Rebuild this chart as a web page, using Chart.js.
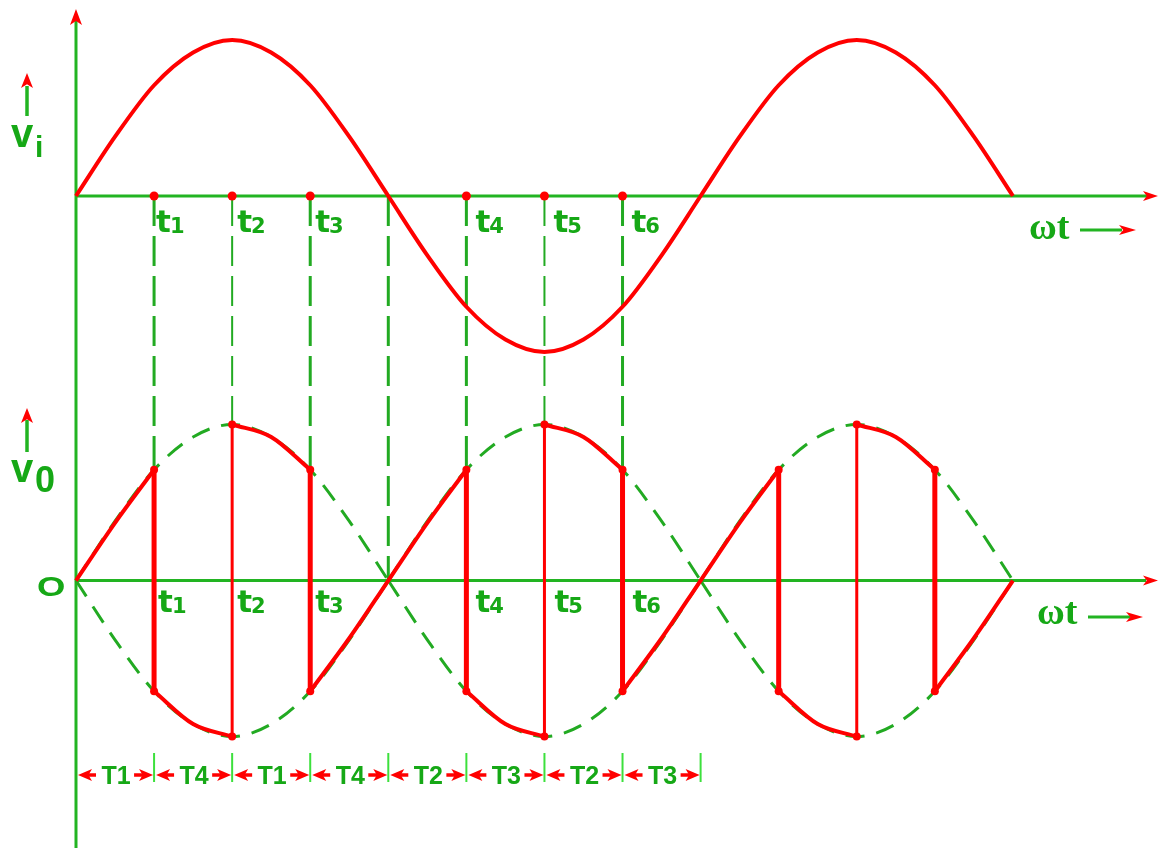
<!DOCTYPE html>
<html><head><meta charset="utf-8">
<script src="https://cdn.jsdelivr.net/npm/chart.js@4.4.1/dist/chart.umd.min.js"></script>
<style>html,body{margin:0;padding:0;background:#fff;overflow:hidden}#wrap{width:1159px;height:848px;position:relative}</style>
</head><body><div id="wrap"><canvas id="c" width="1159" height="848"></canvas></div>
<script>
// ---------- data: phase of ωt in degrees, amplitudes normalised to peak = 1 ----------
const phaseDeg = [0,22.5,45,67.5,90,112.5,135,157.5,180,202.5,225,247.5,270,292.5,315,337.5,360,382.5,405,427.5,450,472.5,495,517.5,540];
const viValues = [0,0.38,0.71,0.92,1,0.92,0.71,0.38,0,-0.38,-0.71,-0.92,-1,-0.92,-0.71,-0.38,0,0.38,0.71,0.92,1,0.92,0.71,0.38,0];
const envelopeValues = [0,0.38,0.71,0.92,1,0.92,0.71,0.38,0,0.38,0.71,0.92,1,0.92,0.71,0.38,0,0.38,0.71,0.92,1,0.92,0.71,0.38,0];
// output waveform: a repeated phase marks a vertical switching jump
const voPhase = [0,22.5,45, 45,67.5,90, 90,112.5,135, 135,157.5,180,202.5,225, 225,247.5,270, 270,292.5,315, 315,337.5,360,382.5,405, 405,427.5,450, 450,472.5,495, 495,517.5,540];
const voValues = [0,0.37,0.71, -0.71,-0.92,-1, 1,0.92,0.71, -0.71,-0.37,0,0.37,0.71, -0.71,-0.92,-1, 1,0.92,0.71, -0.71,-0.37,0,0.37,0.71, -0.71,-0.92,-1, 1,0.92,0.71, -0.71,-0.37,0];
const tPhase = [45,90,135,225,270,315];
const tNames = ['1','2','3','4','5','6'];
const connectorPhase = [45,90,135,180,225,270,315];
const connectorEnd = [0.71,1,0.71,0,0.71,1,0.71];
const intervalEdges = [0,45,90,135,180,225,270,315,360];
const intervalLabels = ['T1','T4','T1','T4','T2','T3','T2','T3'];

// ---------- styles ----------
const RED = '#ff0000', G_AXIS = '#22b422', G_TEXT = '#16a816', G_TICK = '#3ce03c', G_DASH = '#22aa22';

// build datasets
const datasets = [];
datasets.push({ data: phaseDeg.map((p,i)=>({x:p,y:viValues[i]})), yAxisID:'yi', borderColor:RED, borderWidth:4,
  pointRadius:0, cubicInterpolationMode:'monotone', order:2 });
datasets.push({ data: tPhase.map(p=>({x:p,y:0})), yAxisID:'yi', showLine:false, pointRadius:4.5,
  pointBackgroundColor:RED, pointBorderWidth:0, order:0 });

// envelope lobes
const lobes = []; let cur = [];
phaseDeg.forEach((p,i)=>{
  cur.push({x:p, v:envelopeValues[i]});
  if (envelopeValues[i]===0 && cur.length>1){ lobes.push(cur); cur=[{x:p,v:0}]; }
});
lobes.forEach(l=>{
  [1,-1].forEach(s=>{
    datasets.push({ data: l.map(o=>({x:o.x,y:s*o.v})), yAxisID:'yo', borderColor:G_DASH, borderWidth:3,
      borderDash:[19,12], pointRadius:0, cubicInterpolationMode:'monotone', order:6 });
  });
});

// output curves and jumps
const voCurves=[], voJumps=[];
let seg=[{x:voPhase[0], y:voValues[0]}];
for (let i=1;i<voPhase.length;i++){
  if (voPhase[i]===voPhase[i-1]) {
    voCurves.push(seg);
    voJumps.push([{x:voPhase[i-1],y:voValues[i-1]},{x:voPhase[i],y:voValues[i]}]);
    seg=[{x:voPhase[i],y:voValues[i]}];
  } else seg.push({x:voPhase[i],y:voValues[i]});
}
voCurves.push(seg);
voCurves.forEach(c=>datasets.push({ data:c, yAxisID:'yo', borderColor:RED, borderWidth:4, pointRadius:0,
  cubicInterpolationMode:'monotone', order:2 }));
voJumps.forEach(j=>datasets.push({ data:j, yAxisID:'yo', borderColor:RED,
  borderWidth: Math.abs(j[1].y-j[0].y) > 1.9 ? 3 : 5, tension:0, pointRadius:4,
  pointBackgroundColor:RED, pointBorderWidth:0, order:1 }));

// ---------- drawing helpers ----------
function line(ctx,x1,y1,x2,y2){ctx.beginPath();ctx.moveTo(x1,y1);ctx.lineTo(x2,y2);ctx.stroke();}
function head(ctx,tx,ty,dx,dy,len,half){
  const bx=tx-dx*len, by=ty-dy*len, nx=tx-dx*len*0.75, ny=ty-dy*len*0.75;
  ctx.beginPath(); ctx.moveTo(tx,ty);
  ctx.lineTo(bx-dy*half, by+dx*half);
  ctx.lineTo(nx,ny);
  ctx.lineTo(bx+dy*half, by-dx*half);
  ctx.closePath(); ctx.fill();
}

const tNudgeTop = [2,5,5,9,9,9], tNudgeBottom = [4,5,5,9,10,10];

const decor = {
  id:'decor',
  beforeDatasetsDraw(chart){
    const {ctx} = chart; const {x, yi, yo} = chart.scales;
    const X0 = x.getPixelForValue(0), Yi0 = yi.getPixelForValue(0), Yo0 = yo.getPixelForValue(0);
    ctx.save();
    ctx.strokeStyle = G_AXIS; ctx.lineWidth = 3; ctx.lineCap = 'butt';
    line(ctx, X0, 20, X0, chart.height);
    line(ctx, X0, Yi0, 1147, Yi0);
    line(ctx, X0, Yo0, 1146, Yo0);
    // dashed projection lines
    ctx.strokeStyle = G_DASH;
    ctx.setLineDash([30,10]);
    connectorPhase.forEach((p,i)=>{
      const px = x.getPixelForValue(p);
      ctx.lineWidth = connectorEnd[i] >= 1 ? 2 : 3;
      line(ctx, px, Yi0, px, yo.getPixelForValue(connectorEnd[i]));
    });
    ctx.setLineDash([]);
    // interval ticks
    const yRow = 775;
    ctx.strokeStyle = G_TICK; ctx.lineWidth = 2;
    intervalEdges.slice(1).forEach(p=>{ const px=x.getPixelForValue(p); line(ctx, px, 753, px, 782); });
    // interval arrows
    ctx.strokeStyle = RED; ctx.fillStyle = RED; ctx.lineWidth = 3.5;
    for (let i=0;i<intervalLabels.length;i++){
      const a = x.getPixelForValue(intervalEdges[i]), b = x.getPixelForValue(intervalEdges[i+1]);
      line(ctx, a+11, yRow, a+20, yRow);
      head(ctx, a+2, yRow, -1, 0, 14, 6);
      line(ctx, b-20, yRow, b-11, yRow);
      head(ctx, b-1, yRow, 1, 0, 14, 6);
    }
    ctx.restore();
  },
  afterDatasetsDraw(chart){
    const {ctx} = chart; const {x, yi, yo} = chart.scales;
    const X0 = x.getPixelForValue(0), Yi0 = yi.getPixelForValue(0), Yo0 = yo.getPixelForValue(0);
    ctx.save();
    ctx.fillStyle = RED;
    head(ctx, X0, 9, 0, -1, 16, 6);
    head(ctx, 1158, Yi0, 1, 0, 15, 5);
    head(ctx, 1158, Yo0, 1, 0, 15, 5);
    // ωt arrows
    ctx.strokeStyle = G_AXIS; ctx.lineWidth = 3;
    line(ctx, 1080, 230, 1122, 230); line(ctx, 1088, 617, 1130, 617);
    // Vi, Vo arrows
    ctx.lineWidth = 3.5;
    line(ctx, 27, 86, 27, 116); line(ctx, 27, 420, 27, 452);
    ctx.fillStyle = RED;
    head(ctx, 1136, 230, 1, 0, 17, 5); head(ctx, 1143, 617, 1, 0, 17, 5);
    head(ctx, 27, 73, 0, -1, 15, 6); head(ctx, 27, 408, 0, -1, 15, 6);

    // ---- text ----
    ctx.fillStyle = G_TEXT; ctx.textAlign = 'left'; ctx.textBaseline = 'alphabetic';
    const drawT = (px, base, name) => {
      ctx.font = 'bold 31px "DejaVu Sans"';
      ctx.fillText('t', px, base);
      const w = ctx.measureText('t').width;
      ctx.font = 'bold 21px "DejaVu Sans"';
      ctx.fillText(name, px + w - 1, base + 1);
    };
    tPhase.forEach((p,i)=>{
      const px = x.getPixelForValue(p);
      drawT(px + tNudgeTop[i], 232, tNames[i]);
      drawT(px + tNudgeBottom[i], 612, tNames[i]);
    });
    ctx.font = 'bold 38px "Liberation Serif"';
    ctx.fillText('ωt', 1029, 239);
    ctx.fillText('ωt', 1037, 624);
    ctx.font = 'bold 40px "Liberation Sans"';
    ctx.fillText('v', 11, 147);
    ctx.fillText('v', 11, 482);
    ctx.font = 'bold 30px "Liberation Sans"';
    ctx.fillText('i', 35, 157);
    ctx.font = 'bold 36px "Liberation Sans"';
    ctx.fillText('0', 35, 492);
    ctx.save(); ctx.translate(37, 596); ctx.scale(1.35, 1);
    ctx.font = 'bold 27px "Liberation Sans"'; ctx.fillText('O', 0, 0); ctx.restore();
    // interval labels
    ctx.font = 'bold 25px "Liberation Sans"'; ctx.textAlign = 'center';
    for (let i=0;i<intervalLabels.length;i++){
      const a = x.getPixelForValue(intervalEdges[i]), b = x.getPixelForValue(intervalEdges[i+1]);
      ctx.fillText(intervalLabels[i], (a+b)/2 + 1, 784);
    }
    ctx.restore();
  }
};

new Chart(document.getElementById('c'), {
  type:'line',
  data:{ datasets },
  options:{
    responsive:false, animation:false, devicePixelRatio:1, events:[],
    layout:{ padding:0, autoPadding:false },
    plugins:{ legend:{display:false}, tooltip:{enabled:false} },
    scales:{
      x:{ type:'linear', min:-43.8, max:624.2, display:false },
      yi:{ type:'linear', min:-4.1795, max:1.2564, display:false },
      yo:{ type:'linear', min:-1.7147, max:3.7212, display:false }
    }
  },
  plugins:[decor]
});
</script>
</body></html>
